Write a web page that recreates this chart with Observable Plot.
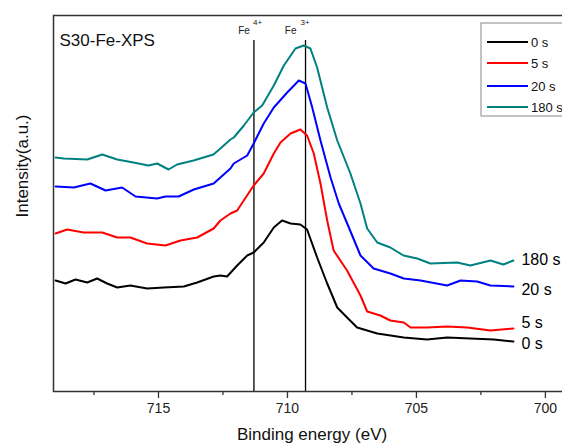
<!DOCTYPE html>
<html><head><meta charset="utf-8">
<script src="https://cdn.jsdelivr.net/npm/d3@7"></script>
<script src="https://cdn.jsdelivr.net/npm/@observablehq/plot@0.6"></script>
<style>
html,body{margin:0;padding:0;background:#fff;}
#c{width:562px;height:447px;overflow:hidden;position:relative;}
#c svg{display:block;font-family:"Liberation Sans",Arial,sans-serif;max-width:none !important;width:600px !important;height:447px !important;}
</style></head>
<body><div id="c"></div>
<script>
const series = ["0 s", "5 s", "20 s", "180 s"];
const colors = ["#000000", "#ff0000", "#0000ff", "#008080"];
const majorTicks = [715, 710, 705, 700];
const minorTicks = [717.5, 712.5, 707.5, 702.5];
const peaks = [{E: 711.3, ion: "4+"}, {E: 709.3, ion: "3+"}];

// [binding energy (eV), intensity (a.u.)]
const s0 = [[718.99,111],[718.60,108],[718.22,112],[717.76,109],[717.38,113],[716.99,108],[716.60,104],[716.09,106],[715.44,103],[714.79,104],[714.02,105],[713.50,109],[712.86,115],[712.60,116],[712.34,115],[711.95,126],[711.56,136],[711.31,139],[710.92,149],[710.53,164],[710.21,171],[709.88,168],[709.50,167],[709.24,162],[708.85,134],[708.46,108],[708.07,84],[707.69,74],[707.30,64],[706.91,61],[706.52,58],[705.49,54],[704.59,52],[703.81,54],[702.91,53],[702.00,52],[701.24,50]];
const s5 = [[718.99,158],[718.54,162],[717.90,159],[717.18,159],[716.60,154],[716.09,154],[715.44,148],[714.73,146],[714.15,151],[713.50,154],[712.86,163],[712.60,171],[712.21,178],[711.95,181],[711.31,206],[710.92,218],[710.53,238],[710.27,249],[709.88,258],[709.50,262],[709.24,256],[708.98,238],[708.72,208],[708.46,171],[708.21,141],[707.69,121],[707.17,96],[706.91,80],[706.40,76],[706.01,71],[705.49,69],[705.23,64],[704.59,64],[703.81,65],[703.03,64],[702.13,61],[701.24,63]];
const s20 = [[718.99,205],[718.28,204],[717.64,208],[717.05,201],[716.41,204],[715.89,195],[715.05,193],[714.73,195],[714.22,195],[713.63,202],[712.86,208],[712.60,214],[712.21,223],[712.08,228],[711.56,236],[711.31,248],[710.92,268],[710.53,284],[710.01,299],[709.56,311],[709.30,308],[709.04,284],[708.72,251],[708.33,214],[708.01,188],[707.62,164],[707.17,136],[706.66,123],[706.01,118],[705.49,113],[704.84,111],[703.81,106],[703.29,111],[702.65,110],[702.13,106],[701.24,105]];
const s180 = [[718.99,234],[718.67,233],[717.76,232],[717.18,237],[716.60,232],[715.97,229],[715.39,226],[715.05,228],[714.61,222],[714.28,227],[713.64,231],[712.87,237],[712.60,243],[712.21,252],[712.08,254],[711.69,266],[711.31,279],[710.98,286],[710.53,306],[710.14,326],[709.69,343],[709.37,346],[709.11,343],[708.85,324],[708.46,284],[708.07,251],[707.56,218],[707.17,188],[706.91,163],[706.52,149],[706.01,144],[705.50,136],[704.97,133],[704.46,128],[703.42,129],[702.91,126],[702.13,131],[701.63,127],[701.24,131]];

const all = [s0, s5, s20, s180];
const data = all.flatMap((s, i) => s.map(([E, I]) => ({series: series[i], E, I})));
const ends = all.map((s, i) => ({series: series[i], E: s[s.length - 1][0], I: s[s.length - 1][1]}));
const endShift = [-2, 6, -3, 1]; // label offset from line end (a.u. == px here)

const font = "Liberation Sans, Arial, sans-serif";
const feMarks = peaks.flatMap((p, k) => [
  Plot.text([p], {x: "E", y: 351, text: () => "Fe", textAnchor: "end", dx: k === 0 ? -4 : -9, dy: -10, fontSize: 10, fill: "#222"}),
  Plot.text([p], {x: "E", y: 351, text: "ion", textAnchor: "start", dx: k === 0 ? -1 : -5, dy: -18, fontSize: 8, fill: "#222"})
]);

const plot = Plot.plot({
  width: 600, height: 447,
  marginLeft: 53, marginRight: 20, marginTop: 15, marginBottom: 56,
  style: {fontFamily: font, background: "white"},
  x: {domain: [719.07, 698.64]},
  y: {domain: [0, 376], axis: null},
  color: {domain: series, range: colors},
  marks: [
    Plot.ruleX(peaks, {x: "E", y1: 0, y2: 351, stroke: "#000", strokeWidth: 1.3}),
    ...feMarks,
    Plot.line(data, {x: "E", y: "I", z: "series", stroke: "series", strokeWidth: 2, strokeLinejoin: "round"}),
    Plot.text(ends, {x: "E", y: (d, i) => d.I + endShift[i], text: "series", dx: 8, textAnchor: "start", fontSize: 16, fill: "#000"}),
    Plot.frame({stroke: "#333", strokeWidth: 1.5}),
    Plot.axisX({ticks: majorTicks, tickSize: 7, tickPadding: 5, fontSize: 14, label: null, stroke: "#333", strokeWidth: 1.3, fill: "#222"}),
    Plot.axisX({ticks: minorTicks, tickSize: 4, tickFormat: () => "", label: null, stroke: "#333", strokeWidth: 1.3}),
    Plot.text(["S30-Fe-XPS"], {frameAnchor: "top-left", dx: 6, dy: 18, textAnchor: "start", fontSize: 17, fill: "#111"}),
    Plot.text(["Binding energy (eV)"], {frameAnchor: "bottom", dx: -5, dy: 48, fontSize: 17, fill: "#111"}),
    Plot.text(["Intensity(a.u.)"], {frameAnchor: "left", dx: -31, dy: 14, rotate: -90, fontSize: 17, fill: "#111"})
  ]
});

// legend
const svg = d3.select(plot);
const lg = svg.append("g");
lg.append("rect").attr("x", 481).attr("y", 23).attr("width", 110).attr("height", 93)
  .attr("fill", "white").attr("stroke", "#888").attr("stroke-width", 1);
const rowY = [42, 63, 86, 107];
series.forEach((s, i) => {
  lg.append("line").attr("x1", 487).attr("x2", 528).attr("y1", rowY[i]).attr("y2", rowY[i])
    .attr("stroke", colors[i]).attr("stroke-width", 2);
  lg.append("text").attr("x", 531).attr("y", rowY[i]).attr("dy", "0.35em")
    .attr("font-size", 13).attr("fill", "#111").attr("font-family", font).attr("text-anchor", "start").text(s);
});
document.getElementById("c").appendChild(plot);
</script>
</body></html>
